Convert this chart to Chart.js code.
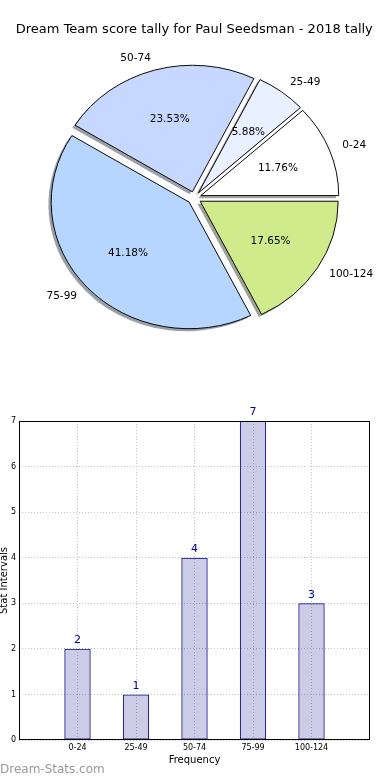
<!DOCTYPE html>
<html>
<head>
<meta charset="utf-8">
<title>Dream Team score tally</title>
<script src="https://cdn.jsdelivr.net/npm/chart.js@4.4.0/dist/chart.umd.min.js"></script>
<style>
  html, body { margin: 0; padding: 0; background: #fff; }
  .box { position: relative; width: 390px; }
  canvas { display: block; }
</style>
</head>
<body>
<div class="box" style="height:400px"><canvas id="pieChart"></canvas></div>
<div class="box" style="height:380px"><canvas id="barChart"></canvas></div>
<script>
// ----------------------
// data
// ----------------------
const categories = ['0-24', '25-49', '50-74', '75-99', '100-124'];
const counts = [2, 1, 4, 7, 3];
const sliceColors = ['#ffffff', '#e9f0ff', '#c6d8ff', '#b6d6ff', '#cfeb8b'];
const explode = [0.05, 0.05, 0.05, 0.05, 0.05];
const yTicks = [0, 1, 2, 3, 4, 5, 6, 7];
const xTicks = [0, 1, 2, 3, 4];

const chartTitle = 'Dream Team score tally for Paul Seedsman - 2018 tally';

// pie geometry (matplotlib pie is a bit squashed, counter-clockwise from east)
const PIE_RADIUS = 138;
const PIE_SQUASH = 0.917;
const SHADOW = 0.02;

Chart.defaults.font.family = '"DejaVu Sans", sans-serif';
Chart.defaults.color = '#000';

// chart.js goes clockwise, so feed the slices in reverse order
const pieOrder = categories.map((_, i) => categories.length - 1 - i);
const pieLabels = pieOrder.map(i => categories[i]);
const pieValues = pieOrder.map(i => counts[i]);
const pieColors = pieOrder.map(i => sliceColors[i]);
const pieExplode = pieOrder.map(i => explode[i]);
const total = counts.reduce((a, b) => a + b, 0);

function shadowOf(hex) {
  const n = parseInt(hex.slice(1), 16);
  const r = (n >> 16) & 255, g = (n >> 8) & 255, b = n & 255;
  return `rgba(${Math.round(r * 0.3)},${Math.round(g * 0.3)},${Math.round(b * 0.3)},0.5)`;
}

const pieDecor = {
  id: 'pieDecor',
  afterDatasetsUpdate(chart) {
    // explode wedges out from the centre
    chart.getDatasetMeta(0).data.forEach((arc, i) => {
      const mid = (arc.startAngle + arc.endAngle) / 2;
      const d = pieExplode[i] * arc.outerRadius;
      arc.x += Math.cos(mid) * d;
      arc.y += Math.sin(mid) * d;
    });
  },
  beforeDatasetsDraw(chart) {
    const { ctx, chartArea } = chart;
    const cy = (chartArea.top + chartArea.bottom) / 2;
    ctx.save();
    ctx.translate(0, cy);
    ctx.scale(1, PIE_SQUASH);
    ctx.translate(0, -cy);
    // shadows go under every wedge
    chart.getDatasetMeta(0).data.forEach((arc, i) => {
      const s = SHADOW * arc.outerRadius;
      ctx.beginPath();
      ctx.moveTo(arc.x - s, arc.y + s);
      ctx.arc(arc.x - s, arc.y + s, arc.outerRadius, arc.startAngle, arc.endAngle);
      ctx.closePath();
      ctx.fillStyle = shadowOf(pieColors[i]);
      ctx.fill();
    });
  },
  afterDatasetsDraw(chart) {
    const { ctx, chartArea } = chart;
    ctx.restore();
    const cy = (chartArea.top + chartArea.bottom) / 2;
    ctx.save();
    ctx.font = '10.5px "DejaVu Sans"';
    ctx.fillStyle = '#000';
    ctx.textBaseline = 'middle';
    chart.getDatasetMeta(0).data.forEach((arc, i) => {
      const mid = (arc.startAngle + arc.endAngle) / 2;
      const cos = Math.cos(mid), sin = Math.sin(mid);
      const at = f => [arc.x + cos * f * arc.outerRadius,
                       cy + (arc.y + sin * f * arc.outerRadius - cy) * PIE_SQUASH];
      let [x, y] = at(1.1);
      ctx.textAlign = cos > 0 ? 'left' : 'right';
      ctx.fillText(pieLabels[i], x, y);
      [x, y] = at(0.6);
      ctx.textAlign = 'center';
      ctx.fillText((pieValues[i] / total * 100).toFixed(2) + '%', x, y);
    });
    ctx.restore();
  }
};

new Chart(document.getElementById('pieChart'), {
  type: 'pie',
  data: {
    labels: pieLabels,
    datasets: [{
      data: pieValues,
      backgroundColor: pieColors,
      borderColor: '#000',
      borderWidth: 1,
      rotation: 90,
      radius: PIE_RADIUS
    }]
  },
  options: {
    responsive: true,
    maintainAspectRatio: false,
    animation: false,
    events: [],
    layout: { padding: { left: 0, right: 1.4, top: 0, bottom: 52 } },
    plugins: {
      legend: { display: false },
      tooltip: { enabled: false },
      title: {
        display: true,
        text: chartTitle,
        color: '#000',
        font: { size: 13, weight: 'normal' },
        padding: { top: 22.2, bottom: 10 }
      }
    }
  },
  plugins: [pieDecor]
});

// ----------------------
// bar chart
// ----------------------
const barDecor = {
  id: 'barDecor',
  afterDatasetsDraw(chart) {
    const { ctx, chartArea: a } = chart;
    ctx.save();
    ctx.strokeStyle = '#000';
    ctx.lineWidth = 1;
    ctx.strokeRect(Math.round(a.left) + 0.5, Math.round(a.top) + 0.5,
                   Math.round(a.right - a.left) - 1, Math.round(a.bottom - a.top) - 1);

    ctx.fillStyle = '#0000a0';
    ctx.font = '11px "DejaVu Sans"';
    ctx.textAlign = 'center';
    ctx.textBaseline = 'middle';
    chart.getDatasetMeta(0).data.forEach((bar, i) => {
      ctx.fillText(String(counts[i]), bar.x, bar.y - 8.5);
    });

    ctx.fillStyle = '#999';
    ctx.font = '12px "DejaVu Sans"';
    ctx.textAlign = 'left';
    ctx.fillText('Dream-Stats.com', 0, 370);
    ctx.restore();
  }
};

new Chart(document.getElementById('barChart'), {
  type: 'bar',
  data: {
    datasets: [{
      data: counts.map((v, i) => ({ x: i, y: v })),
      backgroundColor: 'rgba(0,0,128,0.2)',
      borderColor: '#000080',
      borderWidth: 1,
      borderSkipped: false,
      barPercentage: 0.45,
      categoryPercentage: 1
    }]
  },
  options: {
    responsive: true,
    maintainAspectRatio: false,
    animation: false,
    events: [],
    layout: { padding: { left: 0, right: 20, top: 21, bottom: 0 } },
    plugins: { legend: { display: false }, tooltip: { enabled: false } },
    scales: {
      x: {
        type: 'linear',
        min: -1,
        max: 5,
        offset: false,
        afterBuildTicks: s => { s.ticks = xTicks.map(v => ({ value: v })); },
        afterFit: s => { s.height = 40; },
        ticks: {
          callback: v => categories[v],
          font: { size: 8 },
          color: '#000',
          padding: 3,
          autoSkip: false,
          maxRotation: 0
        },
        grid: { color: '#c4c4c4', drawTicks: false, offset: false },
        border: { display: false, dash: [1, 2] },
        title: { display: true, text: 'Frequency', font: { size: 10 }, color: '#000', padding: { top: 0, bottom: 14 } }
      },
      y: {
        min: 0,
        max: 7,
        afterBuildTicks: s => { s.ticks = yTicks.map(v => ({ value: v })); },
        afterFit: s => { s.width = 19; },
        ticks: { font: { size: 8 }, color: '#000', padding: 3 },
        grid: { color: '#c4c4c4', drawTicks: false },
        border: { display: false, dash: [1, 2] },
        title: { display: true, text: 'Stat Intervals', font: { size: 10 }, color: '#000', padding: { top: -2, bottom: 0 } }
      }
    }
  },
  plugins: [barDecor]
});
</script>
</body>
</html>
